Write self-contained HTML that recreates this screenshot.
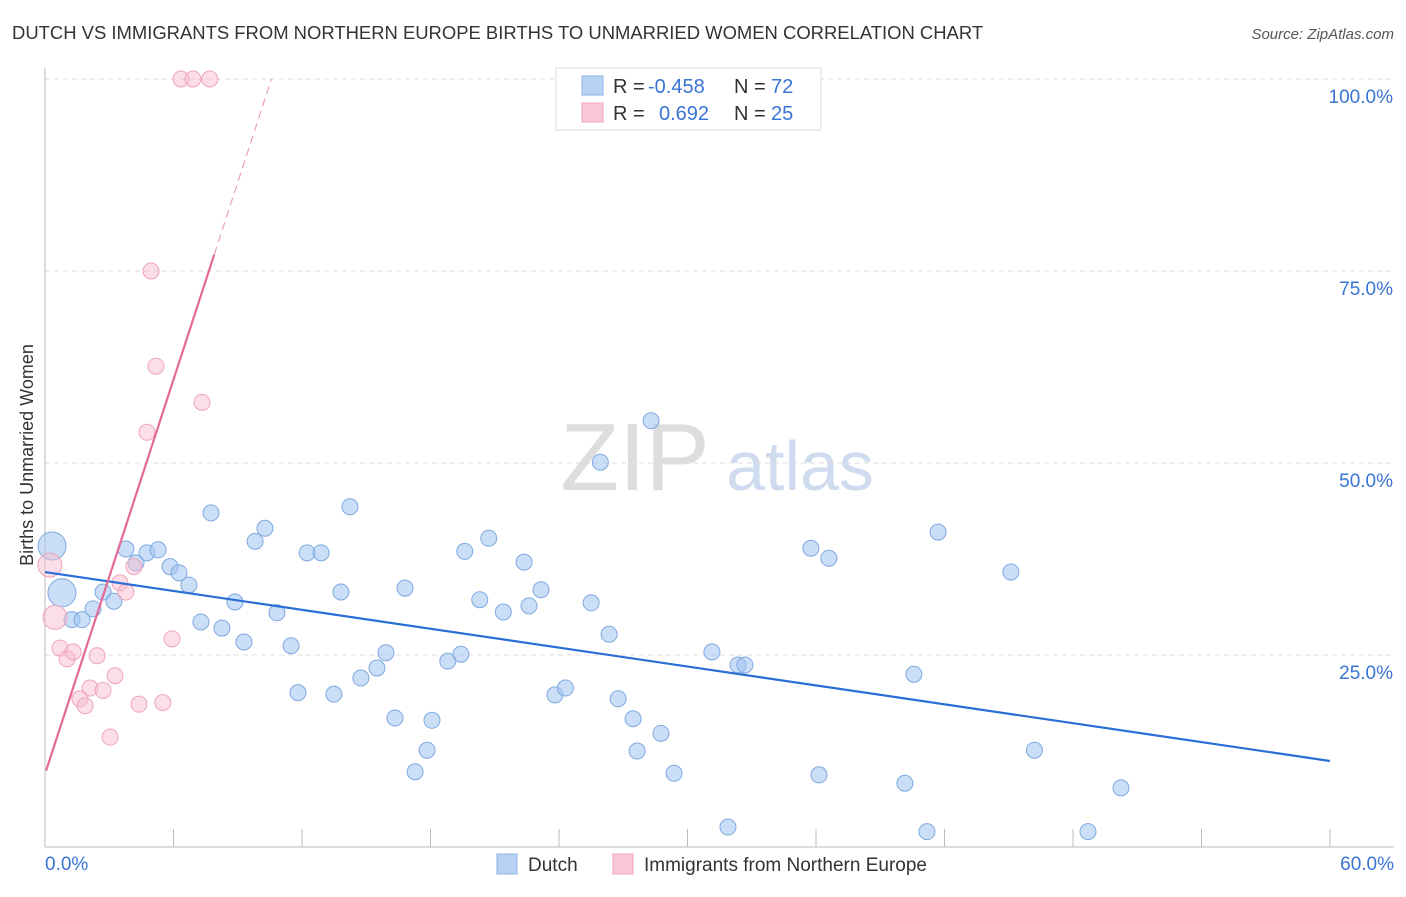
<!DOCTYPE html>
<html><head><meta charset="utf-8"><style>
body{margin:0;background:#fff;font-family:"Liberation Sans",sans-serif;}
svg text{font-family:"Liberation Sans",sans-serif;}
</style></head><body>
<svg id="chart" width="1406" height="892" xmlns="http://www.w3.org/2000/svg">
<text x="12" y="39" font-size="18.45" fill="#333">DUTCH VS IMMIGRANTS FROM NORTHERN EUROPE BIRTHS TO UNMARRIED WOMEN CORRELATION CHART</text>
<text x="1394" y="39" font-size="15" fill="#555" font-style="italic" text-anchor="end">Source: ZipAtlas.com</text>
<text x="33" y="455" font-size="18" fill="#333" transform="rotate(-90 33 455)" text-anchor="middle">Births to Unmarried Women</text>
<g><text x="635" y="490" font-size="96" fill="#ddd" font-family="Liberation Serif" text-anchor="middle">ZIP</text><text x="800" y="490" font-size="70" fill="#cfdcef" text-anchor="middle">atlas</text></g>
<g id="grid"></g><g id="axes"></g><g id="marks"></g>
<g>
<rect x="556" y="68" width="265" height="62" fill="#fff" stroke="#ddd"/>
<rect x="582" y="76" width="21" height="19" fill="#b8d2f4" stroke="#8fb3e6"/>
<rect x="582" y="103" width="21" height="19" fill="#f9c8d6" stroke="#eea5bb"/>
<text x="613" y="93" font-size="20" fill="#333">R =</text><text x="648" y="93" font-size="20" fill="#3a74d4">-0.458</text>
<text x="734" y="93" font-size="20" fill="#333">N =</text><text x="771" y="93" font-size="20" fill="#3a74d4">72</text>
<text x="613" y="120" font-size="20" fill="#333">R =</text><text x="659" y="120" font-size="20" fill="#3a74d4">0.692</text>
<text x="734" y="120" font-size="20" fill="#333">N =</text><text x="771" y="120" font-size="20" fill="#3a74d4">25</text>
</g>
<g>
<rect x="497" y="854" width="20" height="20" fill="#b8d2f4" stroke="#8fb3e6"/><text x="528" y="871" font-size="19" fill="#333">Dutch</text>
<rect x="613" y="854" width="20" height="20" fill="#f9c8d6" stroke="#eea5bb"/><text x="644" y="871" font-size="19" fill="#333">Immigrants from Northern Europe</text>
</g>
</svg>
<script>
const dutchX=[0.33,0.79,1.26,1.73,2.24,2.71,3.22,3.78,4.25,4.76,5.28,5.84,6.26,6.72,7.28,7.75,8.26,8.87,9.29,9.81,10.27,10.83,11.49,11.81,12.24,12.89,13.49,13.82,14.24,14.75,15.5,15.92,16.34,16.81,17.28,17.84,18.07,18.81,19.42,19.6,20.3,20.72,21.4,22.37,22.6,23.16,23.81,24.3,25.5,25.93,26.34,26.76,27.46,27.65,28.3,28.76,29.37,31.14,31.89,32.36,32.68,35.76,36.14,36.6,40.15,40.57,41.18,41.7,45.1,46.2,48.7,50.24];
const dutchY=[39.2,33.1,29.6,29.6,31.0,33.2,32.0,38.8,37.0,38.3,38.7,36.5,35.7,34.1,29.3,43.5,28.5,31.9,26.7,39.8,41.5,30.5,26.2,20.1,38.3,38.3,19.9,33.2,44.3,22.0,23.3,25.3,16.8,33.7,9.8,12.6,16.5,24.2,25.1,38.5,32.2,40.2,30.6,37.1,31.4,33.5,19.8,20.7,31.8,50.1,27.7,19.3,16.7,12.5,55.5,14.8,9.6,25.4,2.6,23.7,23.7,38.9,9.4,37.6,8.3,22.5,2.0,41.0,35.8,12.6,2.0,7.7];
const dutchBig=[0,1];
const immX=[6.35,6.91,7.7,4.95,5.18,7.33,4.76,0.23,0.47,0.7,1.03,1.31,2.43,1.63,1.87,2.1,2.71,3.27,3.04,3.5,3.78,4.15,4.39,5.5,5.93];
const immY=[100,100,100,75.0,62.6,57.9,54.0,36.7,29.9,25.9,24.5,25.4,24.9,19.3,18.4,20.7,20.4,22.3,14.3,34.4,33.2,36.5,18.6,18.8,27.1];
const immBig=[7,8];
const yTicks=[25,50,75,100];
const xTickLabels=["0.0%","60.0%"];
const dutchTrend=[35.8,11.2];
const immTrend=[9.5,8.56];

const X0=45,X1=1330,Y0=847,Y1=79;
const sx=v=>X0+(X1-X0)*v/60, sy=v=>Y0-(Y0-Y1)*v/100;
const NS="http://www.w3.org/2000/svg";
function mk(p,t,a){const e=document.createElementNS(NS,t);for(const k in a)e.setAttribute(k,a[k]);p.appendChild(e);return e;}
const grid=document.getElementById('grid'),axes=document.getElementById('axes'),marks=document.getElementById('marks');
yTicks.forEach(v=>{
 const l=mk(grid,'line',{x1:X0,x2:1394,y1:sy(v),y2:sy(v),stroke:'#ddd','stroke-dasharray':'5,4'});
 
 
 const t=mk(grid,'text',{x:1393,y:sy(v)+24,'font-size':19,fill:'#3a74d4','text-anchor':'end'});t.textContent=v.toFixed(1)+'%';
 
 
});
const ax=mk(axes,'line',{x1:X0,x2:1394,y1:Y0,y2:Y0,stroke:'#bbb'});


const ay=mk(axes,'line',{x1:X0,x2:X0,y1:68,y2:Y0,stroke:'#bbb'});


for(let i=0;i<=10;i++){const tk=mk(axes,'line',{x1:sx(i*6),x2:sx(i*6),y1:Y0,y2:Y0-18,stroke:'#bbb'});
 
 }
const xl0=mk(axes,'text',{x:45,y:870,'font-size':19,fill:'#3a74d4'});xl0.textContent=xTickLabels[0];


const xl1=mk(axes,'text',{x:1394,y:870,'font-size':19,fill:'#3a74d4','text-anchor':'end'});xl1.textContent=xTickLabels[1];



dutchX.forEach((x,i)=>{const c=mk(marks,'circle',{cx:sx(x),cy:sy(dutchY[i]),r:dutchBig.includes(i)?14:8,fill:'rgba(160,195,240,0.55)',stroke:'#7fa9e0','stroke-width':1});
 
 });
immX.forEach((x,i)=>{const c=mk(marks,'circle',{cx:sx(x),cy:sy(immY[i]),r:immBig.includes(i)?12:8,fill:'rgba(248,190,208,0.5)',stroke:'#eea5bb','stroke-width':1});
 
 });
const bl=mk(marks,'line',{x1:sx(0),y1:sy(dutchTrend[0]),x2:sx(60),y2:sy(dutchTrend[1]),stroke:'#2a6fd6','stroke-width':2.2});


const xs=7.9,xe=(100-immTrend[0])/immTrend[1];
const pl=mk(marks,'line',{x1:sx(0.05),y1:sy(immTrend[0]+immTrend[1]*0.05),x2:sx(xs),y2:sy(immTrend[0]+immTrend[1]*xs),stroke:'#e46a94','stroke-width':2.2});


const pd=mk(marks,'line',{x1:sx(xs),y1:sy(immTrend[0]+immTrend[1]*xs),x2:sx(xe),y2:sy(100),stroke:'#e8a0b8','stroke-width':1.2,'stroke-dasharray':'8,5'});


</script>
</body></html>
